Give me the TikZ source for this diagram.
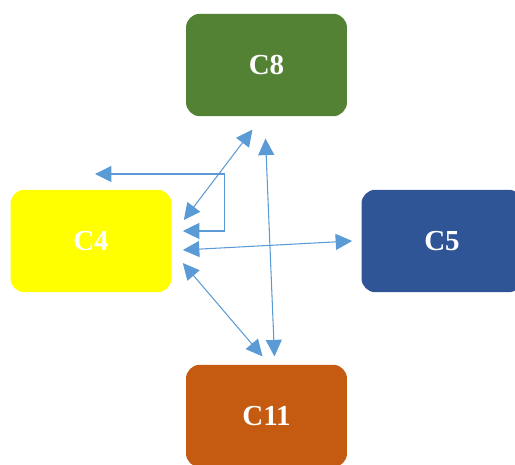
\documentclass[tikz,border=0pt]{standalone}
\usepackage{fontspec}
\setmainfont{Liberation Serif}
\usetikzlibrary{arrows.meta}

\definecolor{cgreen}{HTML}{548235}
\definecolor{cyellow}{HTML}{FFFF00}
\definecolor{cblue}{HTML}{2F5597}
\definecolor{corange}{HTML}{C55A11}
\definecolor{clink}{HTML}{5B9BD5}

\tikzset{
	cbox/.style={rounded corners=0.28cm, minimum width=3.22cm, minimum height=2.05cm, inner sep=0pt,
		text=white, font=\bfseries\fontsize{16.5}{19}\selectfont},
	link/.style={{Triangle[length=0.33cm,width=0.32cm]}-{Triangle[length=0.33cm,width=0.32cm]}, draw=clink, line width=0.6pt}
}

\begin{document}
\begin{tikzpicture}[x=0.02cm, y=-0.02cm]
				\useasboundingbox (0,0) rectangle (515,465);
				\node[cbox, fill=cgreen] (c8) at (266.5,65) {C8};
				\node[cbox, fill=cyellow] (c4) at (91,241) {C4};
				\node[cbox, fill=cblue] (c5) at (442,241) {C5};
				\node[cbox, fill=corange] (c11) at (266.5,416) {C11};
				\coordinate (loose) at (95,174);
				
				\draw[link] ([shift={(12,-21)}]c4.east) -- ([shift={(-14,13)}]c8.south);
				\draw[link] ([shift={(11,-10)}]c4.east) -- ++(42,0) |- (loose);
				\draw[link] ([shift={(11,9)}]c4.east) -- ([shift={(-9,0)}]c5.west);
				\draw[link] ([shift={(11,22)}]c4.east) -- ([shift={(-4,-8)}]c11.north);
				\draw[link] ([shift={(-1,22)}]c8.south) -- ([shift={(8,-8)}]c11.north);
			\end{tikzpicture}
\end{document}
